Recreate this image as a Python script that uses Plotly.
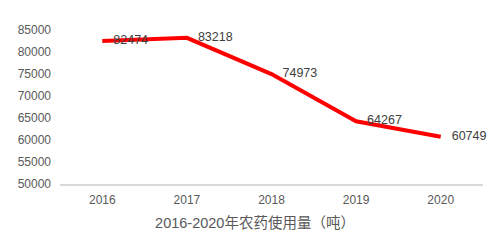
import plotly.graph_objects as go

years = ["2016", "2017", "2018", "2019", "2020"]
usage = [82474, 83218, 74973, 64267, 60749]
y_ticks = [50000, 55000, 60000, 65000, 70000, 75000, 80000, 85000]
y_tick_labels = [str(v) for v in y_ticks]
title_text = "2016-2020年农药使用量（吨）"

fig = go.Figure()
fig.add_trace(go.Scatter(
    x=years, y=usage, mode="lines+markers+text",
    text=[str(v) for v in usage], textposition="middle right",
    textfont=dict(family="Liberation Sans, Arial", size=12.5, color="#404040"),
    line=dict(color="#FF0000", width=4),
    marker=dict(size=16, opacity=0, color="#FF0000"),
    cliponaxis=False, hoverinfo="skip",
))

fig.update_layout(
    width=500, height=244,
    margin=dict(l=60, r=17, t=30, b=60),
    paper_bgcolor="white", plot_bgcolor="white",
    showlegend=False,
    title=dict(text=title_text, xref="container", yref="container",
               x=0.51, y=(244 - 223) / 244, xanchor="center", yanchor="middle",
               font=dict(family="Liberation Sans, Noto Sans CJK SC", size=14.5, color="#595959")),
    xaxis=dict(type="category", range=[-0.5, 4.5], showgrid=False, showline=True,
               linecolor="#D9D9D9", linewidth=1.5, ticks="", zeroline=False,
               tickfont=dict(family="Liberation Sans, Arial", size=12, color="#595959"),
               ticklabelstandoff=4),
    yaxis=dict(range=[50000, 85000], tickvals=y_ticks, ticktext=y_tick_labels,
               showgrid=False, showline=False, zeroline=False, ticks="",
               tickfont=dict(family="Liberation Sans, Arial", size=12, color="#595959"),
               ticklabelstandoff=8),
)

fig.write_html("out.html")
